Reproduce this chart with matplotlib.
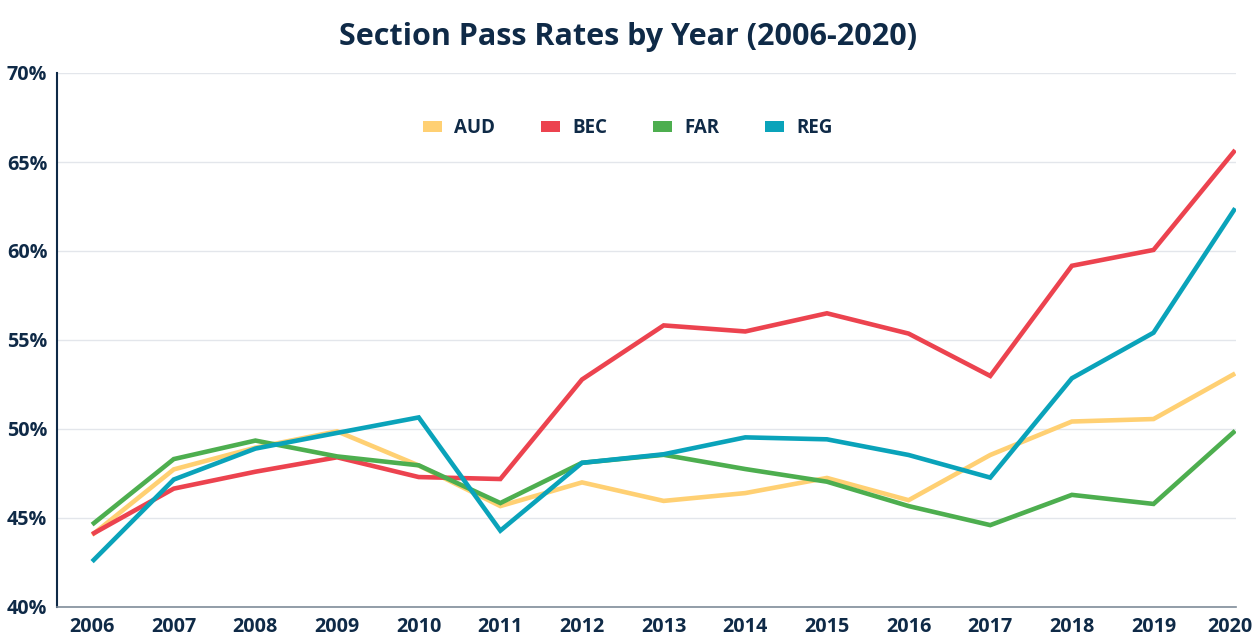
import matplotlib
matplotlib.use("Agg")
import matplotlib.pyplot as plt
from matplotlib.patches import Patch
from matplotlib.ticker import FuncFormatter
from matplotlib.transforms import ScaledTranslation

years = list(range(2006, 2021))
aud = [44.05, 47.73, 48.95, 49.87, 47.95, 45.67, 47.0, 45.96, 46.4, 47.25, 46.0, 48.54, 50.42, 50.56, 53.12]
bec = [44.09, 46.65, 47.6, 48.41, 47.3, 47.19, 52.78, 55.82, 55.48, 56.5, 55.36, 52.98, 59.17, 60.06, 65.67]
far = [44.63, 48.31, 49.35, 48.46, 47.96, 45.84, 48.1, 48.55, 47.75, 47.04, 45.67, 44.6, 46.3, 45.79, 49.9]
reg = [42.55, 47.16, 48.9, 49.78, 50.65, 44.29, 48.1, 48.58, 49.53, 49.42, 48.54, 47.27, 52.85, 55.41, 62.4]
series_names = ["AUD", "BEC", "FAR", "REG"]
yticks = [40, 45, 50, 55, 60, 65, 70]

colors = ["#FFD073", "#EC434F", "#4DAE4F", "#0AA3BA"]
navy = "#0F2A47"

plt.rcParams['font.family'] = ['Open Sans', 'DejaVu Sans']

fig = plt.figure(figsize=(12.56, 6.39), dpi=100)
ax = fig.add_axes([57/1256, 1-607/639, (1236-57)/1256, (607-73)/639])

for vals, c in zip([aud, bec, far, reg], colors):
    ax.plot(years, vals, color=c, lw=3.3, solid_joinstyle='miter', solid_capstyle='butt')

ax.set_xlim(2005.57, 2020.01)
ax.set_ylim(40, 70)
ax.set_yticks(yticks)
ax.set_xticks(years)
ax.yaxis.set_major_formatter(FuncFormatter(lambda v, p: f"{int(v)}%"))
ax.grid(axis='y', color='#E3E6EB', lw=1)
ax.set_axisbelow(True)
ax.tick_params(length=0, labelsize=14.2, labelcolor=navy)
ax.tick_params(axis='y', pad=7)
ax.tick_params(axis='x', pad=7)
for lab in ax.get_xticklabels() + ax.get_yticklabels():
    lab.set_fontweight('bold')
# keep the last x label inside the canvas
last = ax.get_xticklabels()[-1]
last.set_transform(last.get_transform() + ScaledTranslation(-5/100, 0, fig.dpi_scale_trans))
for s in ['top', 'right']:
    ax.spines[s].set_visible(False)
ax.spines['left'].set_color(navy)
ax.spines['left'].set_linewidth(1.5)
ax.spines['bottom'].set_color('#7F8C99')
ax.spines['bottom'].set_linewidth(1.2)

handles = [Patch(facecolor=c, edgecolor='none') for c in colors]
leg = fig.legend(handles, series_names, loc='center', bbox_to_anchor=(0.5, 1-128/639),
                 ncol=4, frameon=False, handlelength=1.0, handleheight=0.55,
                 columnspacing=2.45, handletextpad=0.65,
                 prop={'weight': 'bold', 'size': 13.5})
for t in leg.get_texts():
    t.set_color(navy)

fig.text(0.5, 1-37/639, "Section Pass Rates by Year (2006-2020)", ha='center', va='center',
         fontsize=22, fontweight='bold', color=navy)

fig.savefig("out.png", dpi=100, facecolor='white')
